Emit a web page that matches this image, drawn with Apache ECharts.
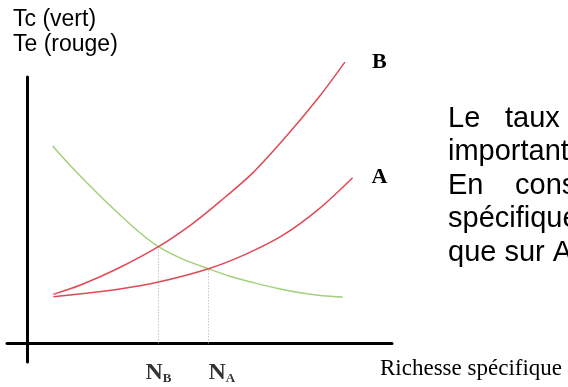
<!DOCTYPE html>
<html><head><meta charset="utf-8">
<script src="https://cdn.jsdelivr.net/npm/echarts@6/dist/echarts.min.js"></script>
<style>html,body{margin:0;padding:0;background:#fff}#c{width:568px;height:387px}</style>
</head><body><div id="c"></div>
<script>
// Tc (green, decreasing)
const tcX = [0.70, 1.20, 1.64, 2.10, 2.55, 3.05, 3.60, 4.25, 4.97, 5.60, 6.20, 6.90, 7.57, 8.10, 8.65];
const tcY = [7.41, 6.65, 6.03, 5.40, 4.82, 4.20, 3.63, 3.17, 2.80, 2.50, 2.28, 2.05, 1.88, 1.79, 1.74];
// Te curve B (red, steep)
const teBX = [0.72, 1.50, 2.50, 3.60, 4.50, 5.29, 6.20, 7.12, 8.00, 8.71];
const teBY = [1.84, 2.21, 2.82, 3.63, 4.46, 5.33, 6.42, 7.80, 9.25, 10.56];
// Te curve A (red, shallow)
const teAX = [0.72, 1.50, 2.50, 3.60, 4.97, 6.00, 7.00, 8.00, 8.92];
const teAY = [1.75, 1.86, 2.03, 2.30, 2.80, 3.35, 4.05, 5.05, 6.22];
// equilibria
const eqX = [3.60, 4.97];
const eqY = [3.63, 2.80];
const eqSub = ['B', 'A'];
const axisTitleLines = ['Tc (vert)', 'Te (rouge)'];
const xAxisName = 'Richesse spécifique';
const paragraph = [['Le', 'taux'], ['important'], ['En', 'cons'], ['spécifique'], ['que sur A']];

const RED = '#df4a55', GREEN = '#a3d07a';
const SERIF = '"Liberation Serif", "Times New Roman", serif';
const pairs = (xs, ys) => xs.map((x, i) => [x, ys[i]]);
const wordX = [[448, 505], [448], [448, 515], [448], [448]];
const eqAlign = ['center', 'left'];

const graphics = [];
axisTitleLines.forEach((t, i) => graphics.push({
  type: 'text', left: 13, top: 8 + i * 25.5,
  style: { text: t, font: '23px "Liberation Sans", Arial, sans-serif', fill: '#000' }
}));
paragraph.forEach((words, i) => words.forEach((w, j) => graphics.push({
  type: 'text', x: wordX[i][j], y: 104 + i * 33.5,
  style: { text: w, font: '29px "Liberation Sans", Arial, sans-serif', fill: '#000', verticalAlign: 'top' }
})));

const axisCommon = {
  type: 'value',
  axisLine: { show: true, onZero: true, lineStyle: { color: '#000', width: 3 } },
  axisTick: { show: false }, axisLabel: { show: false }, splitLine: { show: false }
};

const chart = echarts.init(document.getElementById('c'), null, { renderer: 'canvas' });
chart.setOption({
  animation: false,
  backgroundColor: '#fff',
  grid: { left: 7, right: 176, top: 77, bottom: 25, containLabel: false, outerBoundsMode: 'none' },
  xAxis: Object.assign({}, axisCommon, {
    min: -0.55, max: 10,
    name: xAxisName, nameLocation: 'end', nameGap: -12,
    nameTextStyle: { fontFamily: SERIF, fontSize: 23, color: '#000',
      align: 'left', verticalAlign: 'top', padding: [14, 0, 0, 0] }
  }),
  yAxis: Object.assign({}, axisCommon, { min: -0.7, max: 10 }),
  graphic: graphics,
  series: [
    ...eqX.map((x, i) => ({
      type: 'line', data: [[x, 0], [x, eqY[i]]], symbol: 'none', silent: true,
      lineStyle: { color: '#a8a8a8', width: 1, type: [1, 2] }, z: 1
    })),
    {
      type: 'line', name: 'Tc', data: pairs(tcX, tcY), smooth: 0.3, symbol: 'none', clip: false,
      lineStyle: { color: GREEN, width: 1.5 }, z: 3
    },
    {
      type: 'line', name: 'B', data: pairs(teBX, teBY), smooth: 0.3, symbol: 'none', clip: false,
      lineStyle: { color: RED, width: 1.5 }, z: 4,
      endLabel: { show: true, formatter: '{a}', distance: 27, color: '#000',
        fontFamily: SERIF, fontWeight: 'bold', fontSize: 22 }
    },
    {
      type: 'line', name: 'A', data: pairs(teAX, teAY), smooth: 0.3, symbol: 'none', clip: false,
      lineStyle: { color: RED, width: 1.5 }, z: 4,
      endLabel: { show: true, formatter: '{a}', distance: 19, color: '#000',
        fontFamily: SERIF, fontWeight: 'bold', fontSize: 22 }
    },
    ...eqX.map((x, i) => ({
      type: 'scatter', symbolSize: 1, itemStyle: { color: 'rgba(0,0,0,0)' }, silent: true, z: 5,
      labelLayout: { hideOverlap: false },
      data: [[x, 0]],
      label: {
        show: true, position: 'bottom', distance: 17, align: eqAlign[i],
        formatter: '{n|N}{s|' + eqSub[i] + '}',
        rich: {
          n: { fontFamily: SERIF, fontWeight: 'bold', fontSize: 24, color: '#000', verticalAlign: 'bottom' },
          s: { fontFamily: SERIF, fontWeight: 'bold', fontSize: 13, color: '#000', verticalAlign: 'bottom', padding: [8, 0, 0, 0] }
        }
      }
    }))
  ]
});
</script></body></html>
